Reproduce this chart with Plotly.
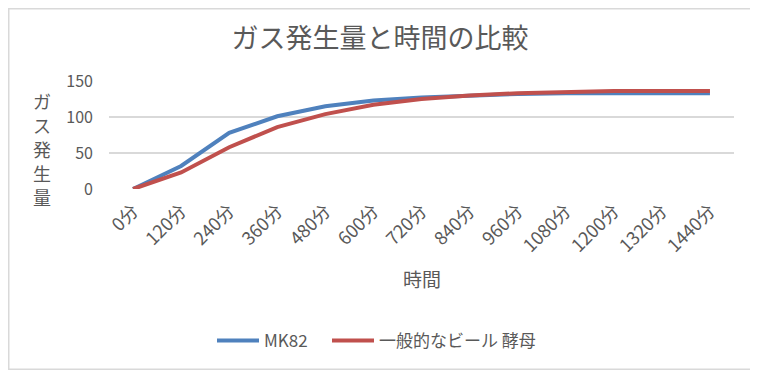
import plotly.graph_objects as go

categories = ["0分", "120分", "240分", "360分", "480分", "600分", "720分",
              "840分", "960分", "1080分", "1200分", "1320分", "1440分"]
mk82 = [0, 32, 78, 101, 115, 123, 127, 130, 132, 133, 133, 133, 133]
beer_yeast = [0, 23, 58, 86, 104, 117, 125, 130, 133, 135, 136, 136, 136]
y_ticks = [0, 50, 100, 150]
y_title_chars = ["ガ", "ス", "発", "生", "量"]

# the page body has an 8px margin, so the figure is drawn 8px in from the corner
OFF = 8
W, H = 758 - OFF, 370 - OFF
PLOT_L, PLOT_R, PLOT_T, PLOT_B = 109 - OFF, 734 - OFF, 81 - OFF, 189 - OFF
ML, MR, MT, MB = PLOT_L, W - PLOT_R, PLOT_T, H - PLOT_B
PW, PH = PLOT_R - PLOT_L, PLOT_B - PLOT_T


def py(p):
    """screenshot pixel y -> paper y"""
    return (PLOT_B - (p - OFF)) / PH


def px(p):
    """screenshot pixel x -> paper x"""
    return ((p - OFF) - PLOT_L) / PW


font_family = "Noto Sans CJK JP, Noto Sans, sans-serif"
grey = "#595959"

fig = go.Figure()
fig.add_trace(go.Scatter(x=categories, y=mk82, mode="lines", name="MK82",
                         line=dict(color="#4f81bd", width=4), legend="legend"))
fig.add_trace(go.Scatter(x=categories, y=beer_yeast, mode="lines", name="一般的なビール 酵母",
                         line=dict(color="#c0504d", width=4), legend="legend2"))

legend_common = dict(orientation="h", yanchor="middle", xanchor="left",
                     font=dict(size=17, color=grey), itemwidth=42,
                     bgcolor="rgba(0,0,0,0)")

fig.update_layout(
    width=W, height=H,
    margin=dict(l=ML, r=MR, t=MT, b=MB, autoexpand=False),
    paper_bgcolor="white", plot_bgcolor="white",
    font=dict(family=font_family, color=grey, size=14),
    title=dict(text="ガス発生量と時間の比較", x=px(380), xanchor="center", xref="paper",
               y=1 - (39 - OFF) / H, yanchor="middle", yref="container",
               font=dict(size=27, color=grey, family=font_family)),
    xaxis=dict(type="category", range=[-0.5, len(categories) - 0.5],
               tickangle=-45, showgrid=False, showline=False, ticks="",
               tickfont=dict(size=18, color=grey), ticklabelstandoff=7,
               automargin=False),
    yaxis=dict(range=[0, 150], tickvals=y_ticks, showgrid=True, gridcolor="#d9d9d9",
               gridwidth=1.5, zeroline=False, showline=False, ticks="",
               tickfont=dict(size=16, color=grey), ticklabelstandoff=15,
               automargin=False),
    legend=dict(x=px(212), y=py(341), **legend_common),
    legend2=dict(x=px(327), y=py(341), **legend_common),
    showlegend=True,
)

# x-axis title
fig.add_annotation(text="時間", xref="paper", yref="paper",
                   x=px(422), y=py(278),
                   xanchor="center", yanchor="middle", showarrow=False,
                   font=dict(size=19, color=grey, family=font_family))

# y-axis title as vertically stacked characters
for i, ch in enumerate(y_title_chars):
    fig.add_annotation(text=ch, xref="paper", yref="paper",
                       x=px(42), y=py(101 + 24 * i),
                       xanchor="center", yanchor="middle", showarrow=False,
                       font=dict(size=18, color=grey, family=font_family))

# outer chart border (page edges)
fig.add_shape(type="rect", xref="paper", yref="paper",
              x0=px(OFF + 0.75), x1=px(757.25),
              y0=py(369.25), y1=py(OFF + 0.75),
              line=dict(color="#d9d9d9", width=1.5), layer="below")

fig.write_html("out.html")
